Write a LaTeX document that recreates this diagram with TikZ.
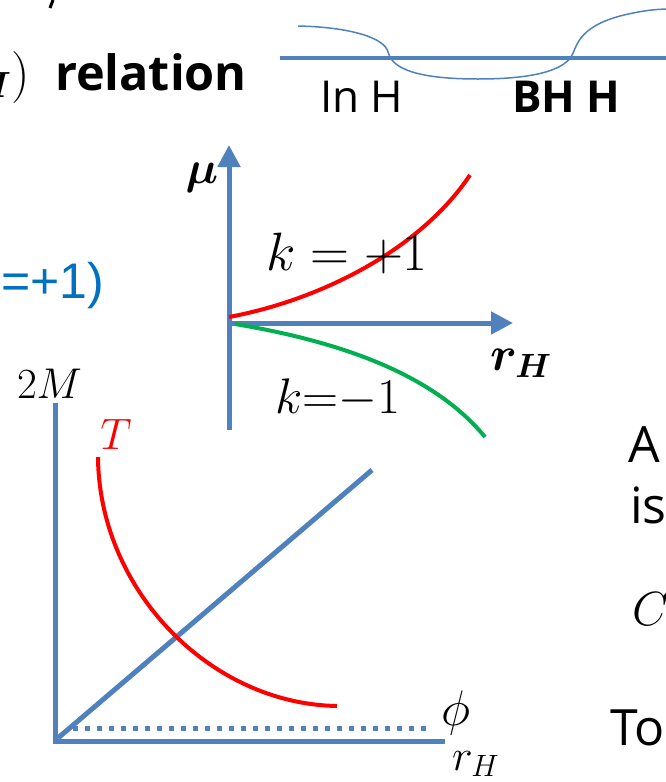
\RequirePackage{fix-cm}
\documentclass[tikz,border=0pt]{standalone}
\usepackage{amsmath}
\usepackage{bm}
\usepackage{fontspec}
\setmainfont{Open Sans}
\usetikzlibrary{arrows.meta}
\definecolor{axisblue}{RGB}{79,129,189}
\definecolor{pptgreen}{RGB}{0,176,80}
\definecolor{txtblue}{RGB}{0,112,192}
\newcommand\fsz[1]{\fontsize{#1}{#1}\selectfont}
\begin{document}
\begin{tikzpicture}[x=1pt,y=-1pt,
  axis/.style={draw=axisblue,line width=5pt},
  axisarrow/.style={axis,-{Triangle[width=22pt,length=22pt]}},
  thinblue/.style={draw=axisblue,line width=1.5pt},
  lbl/.style={inner sep=0pt,outer sep=0pt},
  redcurve/.style={draw=red,line width=4pt},
  greencurve/.style={draw=pptgreen,line width=4pt}]
\useasboundingbox (0,0) rectangle (666,782);
\clip (0,0) rectangle (666,782);

% top left fragments
\draw[line width=3pt] (53,0) -- (50,8);
\node[lbl,anchor=base west,font=\fsz{48.6}\bfseries] (rel) at (55,90) {relation};
\node[lbl,anchor=base east,font=\fsz{52}] (paren) at (30,90) {$\bm{{}_{H}}\mathbf{)}$};

% top right: line with arrow and curve
\coordinate (tl) at (280,58);
\coordinate (tr) at (690,58);
\draw[draw=axisblue,line width=4pt,-{Triangle[width=16pt,length=16pt]}] (tl) -- (tr);
\draw[thinblue] (298,26) .. controls (350,27) and (385,38) .. (388,52)
  .. controls (391,64) and (405,79) .. (478,79)
  .. controls (535,79) and (562,70) .. (571,57)
  .. controls (577,48) and (576,28) .. (620,16)
  .. controls (640,11) and (655,9) .. (670,9);
\node[lbl,anchor=base west,font=\fsz{44}] (inh) at (320,112) {In H};
\node[lbl,anchor=base west,font=\fsz{44}\bfseries] (bhh) at (512,112) {BH H};

% blue text fragment
\node[lbl,anchor=base east,font=\fsz{50},text=txtblue] (kp) at (104,298) {\fontspec{Liberation Sans}=+1)};

% middle graph
\coordinate (mo) at (229,323);
\coordinate (mb) at (229,430);
\coordinate (mt) at (229,145);
\coordinate (mr) at (513,323);
\draw[axisarrow] (mb) -- (mt);
\draw[axisarrow] (mo) -- (mr);
\draw[redcurve] (229,317) .. controls (320,300) and (420,250) .. (470,175);
\draw[greencurve] (235,324) .. controls (330,340) and (430,370) .. (485,437);
\node[lbl,font=\fsz{46}] (mu) at (202,178) {$\bm{\mu}$};
\node[lbl,anchor=base west,font=\fsz{48}] (rh1) at (490,370) {$\bm{r_H}$};
\node[lbl,anchor=base west,font=\fsz{54}] (kplus) at (266,270) {$k=+1$};
\node[lbl,anchor=base west,font=\fsz{50}] (kminus) at (275,413) {$k{=}{-}1$};

% lower graph
\coordinate (lo) at (55,741);
\coordinate (lt) at (55,403);
\coordinate (lr) at (445,741);
\coordinate (d0) at (58,738);
\coordinate (d1) at (372,470);
\coordinate (p0) at (73,728);
\coordinate (p1) at (428,728);
\draw[axis] (lt) -- (55,743.5);
\draw[axis] (52.5,741) -- (lr);
\draw[axis] (d0) -- (d1);
\draw[axis,dash pattern=on 5pt off 7pt] (p0) -- (p1);
\draw[redcurve] (98,457) .. controls (99,590) and (210,704) .. (337,706);
\node[lbl,font=\fsz{44},text=red] (T) at (116,434) {$T$};
\node[lbl,anchor=base west,font=\fsz{43}] (twoM) at (17,398) {$2M$};
\node[lbl,font=\fsz{50}] (phi) at (456,713) {$\phi$};
\node[lbl,anchor=base west,font=\fsz{44}] (rh2) at (452,770) {$r_H$};

% right text fragments
\node[lbl,anchor=base west,font=\fsz{50}] (A) at (628,462) {A};
\node[lbl,anchor=base west,font=\fsz{50}] (is) at (630,523) {is};
\node[lbl,anchor=base west,font=\fsz{48}] (cv) at (632,625) {$C_V$};
\node[lbl,anchor=base west,font=\fsz{50}] (to) at (610,745) {To};
\end{tikzpicture}
\end{document}
